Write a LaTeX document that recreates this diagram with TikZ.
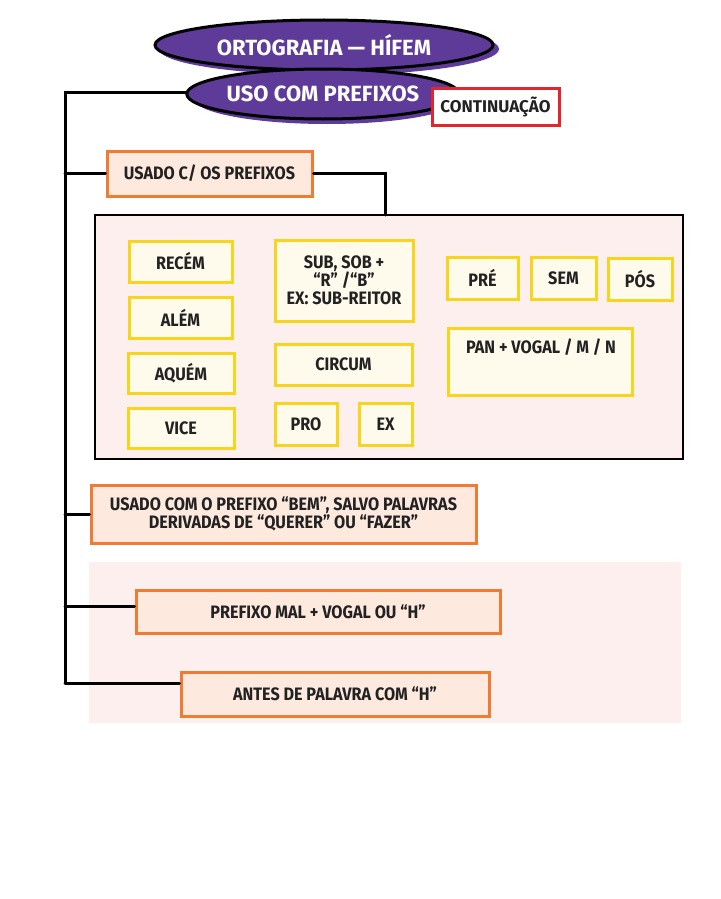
\documentclass[tikz,border=0pt]{standalone}
\usepackage{fontspec}
\setmainfont{Fira Sans}[FakeStretch=0.9]
\newfontfamily\titlefont{Fira Sans}
\usetikzlibrary{shapes.geometric}
\definecolor{purp}{HTML}{5E3B99}
\definecolor{orng}{HTML}{F07B33}
\definecolor{peach}{HTML}{FDE9DE}
\definecolor{yel}{HTML}{F7D51D}
\definecolor{cream}{HTML}{FEFBEC}
\definecolor{pinkbg}{HTML}{FDEFEE}
\definecolor{redb}{HTML}{E4252F}
\definecolor{ink}{HTML}{222222}
\begin{document}
\begin{tikzpicture}[x=1pt,y=-1pt,
  txt/.style={font=\fontsize{18}{19}\selectfont\bfseries, text=ink},
  ybox/.style={txt, draw=yel, fill=cream, line width=3pt, inner sep=0pt, align=center},
  obox/.style={txt, draw=orng, fill=peach, line width=3pt, inner sep=0pt, align=center},
  oval/.style={ellipse, draw=black, fill=purp, line width=3pt, inner sep=0pt, text=white, font=\titlefont\fontsize{22}{23}\selectfont\bfseries},
  conn/.style={line width=3pt, draw=black, line cap=round}]
\useasboundingbox (0,0) rectangle (720,899);
\fill[white] (0,0) rectangle (720,899);
% bottom pink background
\fill[pinkbg] (89,562) rectangle (681,723);
% title ovals
\fill[purp] (329,49) ellipse [x radius=170pt, y radius=26pt];
\node[oval, minimum width=338, minimum height=50] (title) at (324,45) {ORTOGRAFIA — HÍFEM};
\fill[purp] (327,98) ellipse [x radius=134pt, y radius=26pt];
\node[oval, minimum width=267, minimum height=50] (uso) at (323,94) {USO COM PREFIXOS};
\node[txt, font=\titlefont\fontsize{17}{18}\selectfont\bfseries, draw=redb, fill=white, line width=3pt, minimum width=127, minimum height=37, inner sep=0pt] (cont) at (495.5,106.5) {CONTINUAÇÃO};
% trunk
\coordinate (ttop) at (65,92);
\coordinate (tbot) at (65,683);
\coordinate (tmal) at (65,606);
\coordinate (pj) at (385,215);
\draw[conn] (uso.west |- ttop) -- (ttop) -- (tbot);
% panel
\node[draw=black, fill=pinkbg, line width=2.5pt, minimum width=588, minimum height=244, inner sep=0pt] (panel) at (389,337) {};
% orange boxes
\node[obox, minimum width=205, minimum height=45] (usado) at (209.5,173.5) {USADO C/ OS PREFIXOS};
\node[obox, minimum width=385, minimum height=58, font=\fontsize{18}{16}\selectfont\bfseries] (bem) at (283.5,514) {USADO COM O PREFIXO “BEM”, SALVO PALAVRAS\\DERIVADAS DE “QUERER” OU “FAZER”};
\node[obox, minimum width=364, minimum height=43] (mal) at (318,611.5) {PREFIXO MAL + VOGAL OU “H”};
\node[obox, minimum width=308, minimum height=44] (antes) at (335,694) {ANTES DE PALAVRA COM “H”};
% connectors
\draw[conn] (ttop |- usado) -- (usado.west);
\draw[conn] (usado.east) -| (pj);
\draw[conn] (ttop |- bem) -- (bem.west);
\draw[conn] (tmal) -- (mal.west |- tmal);
\draw[conn] (tbot) -- (antes.west |- tbot);
% yellow boxes
\node[ybox, minimum width=103, minimum height=41] (recem) at (180.5,261.5) {RECÉM};
\node[ybox, minimum width=103, minimum height=41] (alem) at (180.5,317.5) {ALÉM};
\node[ybox, minimum width=106, minimum height=40] (aquem) at (181,373) {AQUÉM};
\node[ybox, minimum width=106, minimum height=40] (vice) at (181,428) {VICE};
\node[ybox, minimum width=138, minimum height=81, font=\fontsize{18}{18}\selectfont\bfseries] (sub) at (344,280.5) {SUB, SOB +\\“R” /“B”\\EX: SUB-REITOR};
\node[ybox, minimum width=137, minimum height=41] (circum) at (343.5,364.5) {CIRCUM};
\node[ybox, minimum width=62, minimum height=42] (pro) at (306,424) {PRO};
\node[ybox, minimum width=53, minimum height=42] (ex) at (385.5,424) {EX};
\node[ybox, minimum width=71, minimum height=42] (pre) at (482.5,278) {PRÉ};
\node[ybox, minimum width=65, minimum height=42] (sem) at (563.5,278) {SEM};
\node[ybox, minimum width=64, minimum height=42] (pos) at (640,279) {PÓS};
\node[ybox, minimum width=184, minimum height=67, anchor=north west] (pan) at (447,327) {};
\node[txt] (pantxt) at (541,347) {PAN + VOGAL / M / N};
\end{tikzpicture}
\end{document}
